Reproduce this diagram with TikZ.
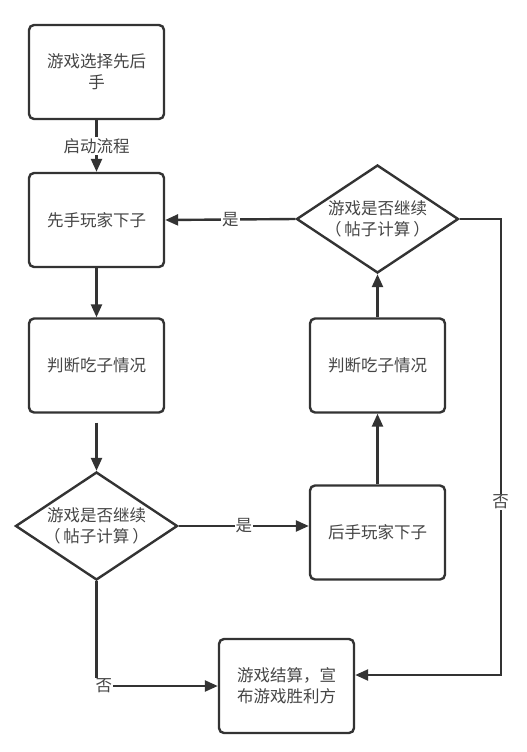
\documentclass[tikz,border=0pt]{standalone}
\usepackage{fontspec}
\setmainfont{Noto Sans CJK SC}
\usetikzlibrary{arrows.meta,shapes.geometric}
\tikzset{>={Triangle[length=13pt,width=11pt]}}
\definecolor{linegray}{HTML}{333333}
\definecolor{textgray}{HTML}{454545}
\tikzset{
    box/.style={draw=linegray,line width=2.4pt,rounded corners=5pt,minimum width=135pt,minimum height=94pt,align=center,text=textgray,inner sep=2pt},
    dec/.style={draw=linegray,line width=2.4pt,diamond,aspect=1.5,minimum width=162pt,minimum height=108pt,align=center,text=textgray,inner sep=0pt},
    lbl/.style={fill=white,text=textgray,inner sep=1pt}
}

\begin{document}
\begin{tikzpicture}[x=1pt,y=-1pt,font=\fontsize{16.5}{21}\selectfont]

    \useasboundingbox (0,0) rectangle (527,752);

    \node [box] (start) at (96.5,72) {游戏选择先后\\手};
    \node [box] (first) at (96.5,220) {先手玩家下子};
    \node [box] (eat1) at (96.5,365.5) {判断吃子情况};
    \node [dec] (cont1) at (96.5,526) {游戏是否继续\\（\hspace{3pt}帖子计算\hspace{3pt}）};
    \node [box] (second) at (377.5,532.5) {后手玩家下子};
    \node [box] (eat2) at (377.5,365.5) {判断吃子情况};
    \node [dec] (cont2) at (377.5,219) {游戏是否继续\\（\hspace{3pt}帖子计算\hspace{3pt}）};
    \node [box] (result) at (286.5,686) {游戏结算，宣\\布游戏胜利方};

    \begin{scope}[line width=2.4pt,color=linegray]
    \draw[->] (start) to node[lbl] {启动流程} (first);
    \draw[->] (first) to (eat1);
    \draw[->,shorten <=9pt] (eat1) to (cont1);
    \draw[->] (cont1.east) to node[lbl] {是} (cont1.east -| second.west);
    \draw[->] (second) to (eat2);
    \draw[->] (eat2) to (cont2);
    \draw[->] (cont2.west) to node[lbl] {是} (first.east);
    \draw[->] (cont1.south) |- node[lbl,pos=0.53] {否} (result.west);
    \draw[->] (cont2.east) -- ++(41,0) |- node[lbl,pos=0.31] {否} ([yshift=11pt]result.east);
    \end{scope}

\end{tikzpicture}
\end{document}
